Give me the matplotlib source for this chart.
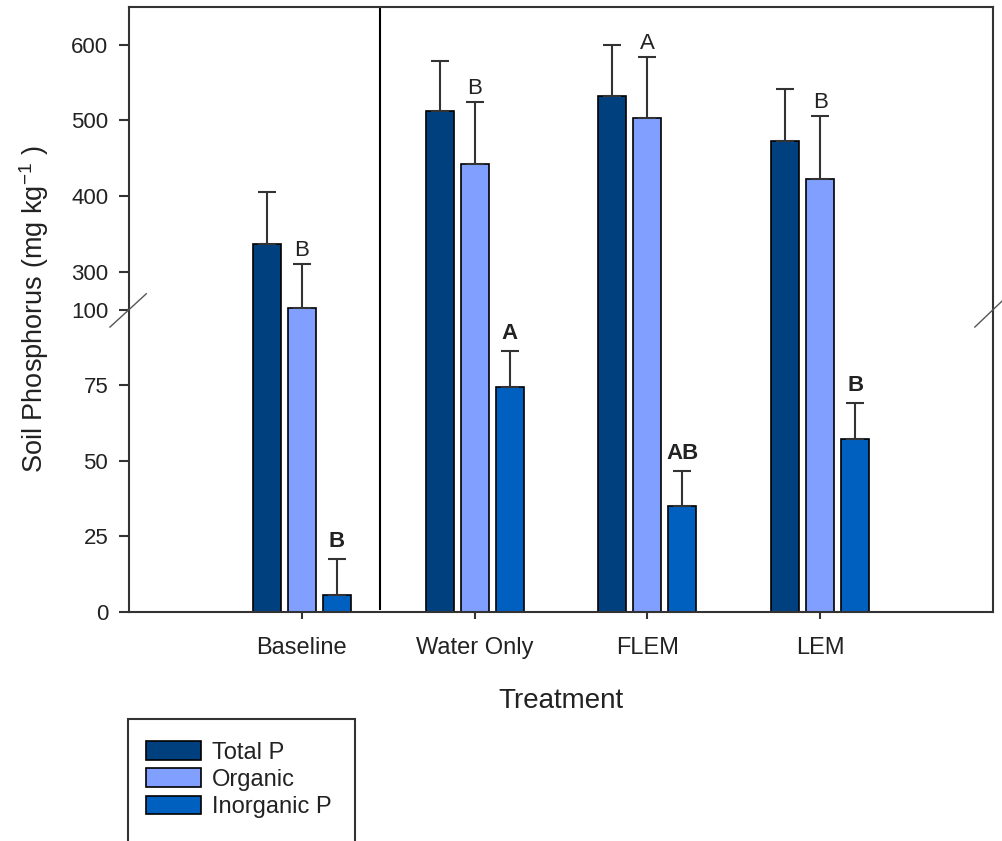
"""Soil phosphorus by treatment, bar chart with a broken y-axis."""
import numpy as np
import matplotlib
matplotlib.use("Agg")
import matplotlib.pyplot as plt
from matplotlib.scale import FuncScale
from matplotlib.patches import Rectangle
from matplotlib.lines import Line2D

plt.rcParams["font.family"] = ["Liberation Sans", "DejaVu Sans"]
plt.rcParams["mathtext.fontset"] = "custom"
plt.rcParams["mathtext.rm"] = "Liberation Sans"

groups = ["Baseline", "Water Only", "FLEM", "LEM"]
series = ["Total P", "Organic", "Inorganic P"]
total_p = [337, 513, 532, 473]
total_err = [68, 66, 68, 69]
organic = [252, 442, 503, 423]
organic_err = [58, 82, 81, 83]
inorganic = [5.7, 74.5, 34.9, 57.2]
inorganic_err = [11.8, 11.7, 11.7, 11.8]
organic_letters = ["B", "B", "A", "B"]
inorganic_letters = ["B", "A", "AB", "B"]
yticks = [0, 25, 50, 75, 100, 300, 400, 500, 600]

colors = ["#00407F", "#809FFF", "#0060BF"]
ink = "#333333"

# broken axis: 0-100 fills the lower half, 250-650 the upper half
brk_x = [0, 100, 250, 650]
brk_y = [0, 0.5, 0.5001, 1.0]


def fwd(v):
    return np.interp(v, brk_x, brk_y)


def inv(v):
    return np.interp(v, brk_y, brk_x)


fig = plt.figure(figsize=(10.02, 8.41), dpi=100)
ax = fig.add_axes([129 / 1002, 1 - 612 / 841, 864 / 1002, 605 / 841])
ax.set_yscale(FuncScale(ax.yaxis, (fwd, inv)))
ax.set_ylim(0, 650)
ax.set_xlim(-1, 4)

x = np.arange(len(groups))
step, width = 0.202, 0.162
vals = [total_p, organic, inorganic]
errs = [total_err, organic_err, inorganic_err]
bars = []
for i, (v, e) in enumerate(zip(vals, errs)):
    xs = x + (i - 1) * step
    b = ax.bar(xs, v, width, color=colors[i], edgecolor="black", linewidth=1.2,
               label=series[i], zorder=2)
    bars.append(b)
    ax.errorbar(xs, v, yerr=[np.zeros(len(v)), e], fmt="none", ecolor=ink,
                elinewidth=1.5, capsize=6.5, capthick=1.5, zorder=3)

for i in range(len(groups)):
    ax.annotate(organic_letters[i], (x[i], organic[i] + organic_err[i]),
                xytext=(0, 2), textcoords="offset points", ha="center",
                va="bottom", fontsize=16, color="#222222")
    ax.annotate(inorganic_letters[i], (x[i] + step, inorganic[i] + inorganic_err[i]),
                xytext=(0, 5), textcoords="offset points", ha="center",
                va="bottom", fontsize=16, fontweight="bold", color="#222222")

# divider between baseline and treatments
ax.axvline(0.452, ymin=0.005, ymax=1, color="black", linewidth=1.5, zorder=1)

for s in ax.spines.values():
    s.set_color(ink)
    s.set_linewidth(1.5)

ax.set_yticks(yticks)
ax.set_yticklabels([str(t) for t in yticks])
ax.set_xticks(x)
ax.set_xticklabels(groups)
ax.tick_params(axis="y", direction="out", length=7, width=1.5, color=ink,
               labelsize=16, pad=8, labelcolor="#222222")
ax.tick_params(axis="x", direction="out", length=5, width=1.5, color=ink,
               labelsize=17, pad=13, labelcolor="#222222")

ax.set_ylabel(r"Soil Phosphorus (mg kg$^{\mathregular{-1}}$ )", fontsize=19.5, color="#222222")
ax.yaxis.set_label_coords(-0.09, 0.5)
ax.set_xlabel("Treatment", fontsize=20, color="#222222")
ax.xaxis.set_label_coords(0.5, -0.125)

# break marks on both vertical spines
for xa, ya in [([-0.022, 0.020], [0.471, 0.526]), ([0.979, 1.012], [0.471, 0.516])]:
    ax.add_line(Line2D(xa, ya, transform=ax.transAxes, color="#555555",
                       linewidth=1.0, clip_on=False, zorder=5))

# legend box, cut off at the bottom edge like the original
fig.patches.append(Rectangle((128 / 1002, -0.05), 227 / 1002, (841 - 719) / 841 + 0.05,
                             transform=fig.transFigure, fill=False,
                             edgecolor=ink, linewidth=1.5))
fig.legend(handles=bars, labels=series, loc="upper left",
           bbox_to_anchor=(146 / 1002, 1 - 741 / 841), frameon=False,
           fontsize=17, borderpad=0, borderaxespad=0, handlelength=2.33,
           handleheight=0.85, handletextpad=0.45, labelspacing=0.2,
           labelcolor="#222222")

fig.savefig("out.png", dpi=100)
